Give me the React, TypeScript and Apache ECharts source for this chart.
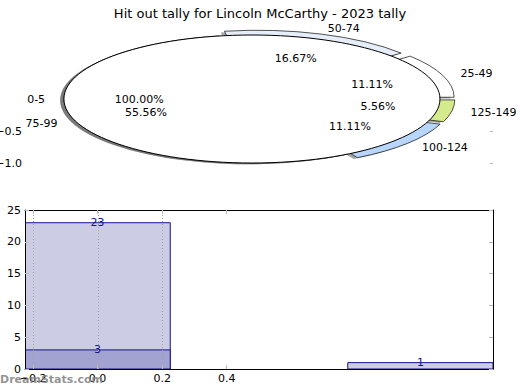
import { useEffect, useRef } from 'react';
import * as echarts from 'echarts';

const TITLE = 'Hit out tally for Lincoln McCarthy - 2023 tally';

// outer (first) pie
const outerLabels = ['0-5'];
const outerValues = [1];
// inner (second) pie
const pieLabels = ['25-49', '50-74', '75-99', '100-124', '125-149'];
const pieValues = [2, 3, 10, 2, 1];
const pieColors = ['#ffffff', '#e6eefa', '#ffffff', '#b8d6fb', '#d5ea8d'];
const pieExplode = [0.08, 0.08, 0, 0.08, 0.08];

// bar chart
const barPositions = [0, 1];
const barTotals = [23, 1];
const overlayPositions = [0];
const overlayValues = [3];
const barXTicks = [-0.2, 0, 0.2, 0.4];
const barGridLines = [-0.2, 0, 0.2];
const barYMax = 25;
const BAR_WIDTH = 0.45;

const FONT = 'DejaVu Sans';

function angles(values: number[]) {
  const total = values.reduce((a, b) => a + b, 0);
  let acc = 0;
  return values.map((v) => {
    const a0 = (acc / total) * Math.PI * 2;
    acc += v;
    const a1 = (acc / total) * Math.PI * 2;
    return { a0, a1, mid: (a0 + a1) / 2, frac: v / total };
  });
}

const innerAngles = angles(pieValues);
const outerAngles = angles(outerValues).map((a) => ({ ...a, mid: Math.PI }));

const textItems = [
  ...outerLabels.map((l, i) => ({ label: l, pct: outerAngles[i].frac, mid: outerAngles[i].mid, e: 0 })),
  ...pieLabels.map((l, i) => ({ label: l, pct: innerAngles[i].frac, mid: innerAngles[i].mid, e: pieExplode[i] })),
];

const minus = (s: string) => s.replace('-', '\u2212');

export default function App() {
  const ref = useRef<HTMLDivElement>(null);
  useEffect(() => {
    if (!ref.current) return;
    const chart = echarts.init(ref.current, undefined, { renderer: 'svg' });
    const tickStyle = { show: true, inside: true, length: 4, lineStyle: { color: '#bbbbbb', width: 1 } };
    const option: any = {
      animation: false,
      backgroundColor: '#ffffff',
      textStyle: { fontFamily: FONT },
      title: {
        text: TITLE,
        left: 'center',
        top: 2,
        textStyle: { fontFamily: FONT, fontSize: 13, fontWeight: 'normal', color: '#000' },
      },
      grid: [
        { left: 25, top: 131, width: 468, height: 32, show: false, containLabel: false, outerBoundsMode: 'none' },
        { left: 25, top: 210, width: 468, height: 159, show: false, containLabel: false, outerBoundsMode: 'none' },
      ],
      xAxis: [
        { gridIndex: 0, type: 'value', min: -1.207, max: 1.282, show: false },
        {
          gridIndex: 1, type: 'value', min: -0.225, max: 1.225, position: 'bottom', z: 5,
          axisLine: { show: true, onZero: false, lineStyle: { color: '#000', width: 1 } },
          axisTick: { ...tickStyle, customValues: barXTicks },
          axisLabel: {
            customValues: barXTicks, margin: 4, fontSize: 11, color: '#000', fontFamily: FONT,
            formatter: (v: number) => minus(v.toFixed(1)),
          },
          splitLine: { show: false },
        },
        {
          gridIndex: 1, type: 'value', min: -0.225, max: 1.225, position: 'top', z: 5,
          axisLine: { show: true, onZero: false, lineStyle: { color: '#000', width: 1 } },
          axisTick: { ...tickStyle, customValues: barXTicks },
          axisLabel: { show: false },
          splitLine: { show: false },
        },
      ],
      yAxis: [
        {
          gridIndex: 0, type: 'value', min: -1, max: -0.5, interval: 0.5, position: 'left',
          axisLine: { show: false },
          axisTick: { ...tickStyle, length: 3 },
          axisLabel: { margin: 3, fontSize: 11, color: '#000', fontFamily: FONT, formatter: (v: number) => minus(v.toFixed(1)) },
          splitLine: { show: false },
        },
        {
          gridIndex: 0, type: 'value', min: -1, max: -0.5, interval: 0.5, position: 'right',
          axisLine: { show: false },
          axisTick: { ...tickStyle, length: 3 },
          axisLabel: { show: false },
          splitLine: { show: false },
        },
        {
          gridIndex: 1, type: 'value', min: 0, max: barYMax, interval: 5, position: 'left', z: 5,
          axisLine: { show: true, onZero: false, lineStyle: { color: '#000', width: 1 } },
          axisTick: tickStyle,
          axisLabel: { margin: 4, fontSize: 11, color: '#000', fontFamily: FONT },
          splitLine: { show: false },
        },
        {
          gridIndex: 1, type: 'value', min: 0, max: barYMax, interval: 5, position: 'right', z: 5,
          axisLine: { show: true, onZero: false, lineStyle: { color: '#000', width: 1 } },
          axisTick: tickStyle,
          axisLabel: { show: false },
          splitLine: { show: false },
        },
      ],
      series: [
        // inner pie slices (exploded), drawn below the outer pie
        {
          type: 'custom', xAxisIndex: 0, yAxisIndex: 0, z: 2, clip: false,
          data: pieValues.map((v) => [0, v]),
          renderItem: (params: any, api: any) => {
            const i = params.dataIndex;
            const { a0, a1, mid } = innerAngles[i];
            const c = api.coord([0, 0]);
            const s = api.size([1, 1]);
            const rx = s[0];
            const ry = s[1];
            const e = pieExplode[i];
            const ox = e * rx * Math.cos(mid);
            const oy = -e * rx * Math.sin(mid);
            return {
              type: 'group', x: c[0], y: c[1], scaleY: ry / rx,
              children: [
                {
                  type: 'sector', z2: 0,
                  shape: { cx: ox - 0.02 * rx, cy: oy + 0.02 * rx, r: rx, startAngle: -a1, endAngle: -a0, clockwise: true },
                  style: { fill: 'rgba(77,77,77,0.5)' },
                },
                {
                  type: 'sector', z2: 1,
                  shape: { cx: ox, cy: oy, r: rx, startAngle: -a1, endAngle: -a0, clockwise: true },
                  style: { fill: pieColors[i], stroke: '#000', lineWidth: 1, strokeNoScale: true },
                },
              ],
            };
          },
        },
        // outer pie (single full slice)
        {
          type: 'custom', xAxisIndex: 0, yAxisIndex: 0, z: 3, clip: false,
          data: outerValues.map((v) => [0, v]),
          renderItem: (params: any, api: any) => {
            const c = api.coord([0, 0]);
            const s = api.size([1, 1]);
            const rx = s[0];
            const ry = s[1];
            return {
              type: 'group',
              children: [
                {
                  type: 'ellipse', z2: 0,
                  shape: { cx: c[0] - 0.02 * rx, cy: c[1] + 0.02 * ry, rx, ry },
                  style: { fill: 'rgba(77,77,77,0.5)' },
                },
                {
                  type: 'ellipse', z2: 1,
                  shape: { cx: c[0], cy: c[1], rx, ry },
                  style: { fill: '#ffffff', stroke: '#000', lineWidth: 1 },
                },
              ],
            };
          },
        },
        // pie texts
        {
          type: 'custom', xAxisIndex: 0, yAxisIndex: 0, z: 4, clip: false,
          data: textItems.map((t) => [0, t.pct]),
          renderItem: (params: any, api: any) => {
            const t = textItems[params.dataIndex];
            const cos = Math.cos(t.mid);
            const sin = Math.sin(t.mid);
            const lp = api.coord([(1.1 + t.e) * cos, (1.1 + t.e) * sin]);
            const pp = api.coord([(0.6 + t.e) * cos, (0.6 + t.e) * sin]);
            return {
              type: 'group',
              children: [
                {
                  type: 'text', x: lp[0], y: lp[1],
                  style: {
                    text: t.label, fill: '#000', font: `11px "${FONT}"`,
                    align: cos > 0 ? 'left' : 'right', verticalAlign: 'middle',
                  },
                },
                {
                  type: 'text', x: pp[0], y: pp[1],
                  style: {
                    text: (t.pct * 100).toFixed(2) + '%', fill: '#000', font: `11px "${FONT}"`,
                    align: 'center', verticalAlign: 'middle',
                  },
                },
              ],
            };
          },
        },
        // total bars
        {
          type: 'custom', xAxisIndex: 1, yAxisIndex: 2, z: 2, clip: true,
          data: barPositions.map((x, i) => [x, barTotals[i]]),
          renderItem: (params: any, api: any) => {
            const x = api.value(0);
            const v = api.value(1);
            const p0 = api.coord([x - BAR_WIDTH / 2, v]);
            const p1 = api.coord([x + BAR_WIDTH / 2, 0]);
            const pt = api.coord([x, v]);
            return {
              type: 'group',
              children: [
                {
                  type: 'rect',
                  shape: { x: p0[0], y: p0[1], width: p1[0] - p0[0], height: p1[1] - p0[1] },
                  style: { fill: '#ccccE5', stroke: '#14148c', lineWidth: 1 },
                },
                {
                  type: 'text', x: pt[0], y: pt[1], z2: 10,
                  style: { text: String(v), fill: '#14148c', font: `11px "${FONT}"`, align: 'center', verticalAlign: 'middle' },
                },
              ],
            };
          },
        },
        // overlay bars
        {
          type: 'custom', xAxisIndex: 1, yAxisIndex: 2, z: 2.5, clip: true,
          data: overlayPositions.map((x, i) => [x, overlayValues[i]]),
          renderItem: (params: any, api: any) => {
            const x = api.value(0);
            const v = api.value(1);
            const p0 = api.coord([x - BAR_WIDTH / 2, v]);
            const p1 = api.coord([x + BAR_WIDTH / 2, 0]);
            const pt = api.coord([x, v]);
            return {
              type: 'group',
              children: [
                {
                  type: 'rect',
                  shape: { x: p0[0], y: p0[1], width: p1[0] - p0[0], height: p1[1] - p0[1] },
                  style: { fill: '#a3a3d1', stroke: '#14148c', lineWidth: 1 },
                },
                {
                  type: 'text', x: pt[0], y: pt[1], z2: 10,
                  style: { text: String(v), fill: '#14148c', font: `11px "${FONT}"`, align: 'center', verticalAlign: 'middle' },
                },
              ],
            };
          },
        },
        // dotted grid lines
        {
          type: 'custom', xAxisIndex: 1, yAxisIndex: 2, z: 3, clip: true, silent: true,
          data: barGridLines.map((x) => [x, 0]),
          renderItem: (params: any, api: any) => {
            const x = api.value(0);
            const a = api.coord([x, 0]);
            const b = api.coord([x, barYMax]);
            return {
              type: 'line',
              shape: { x1: Math.round(a[0]) + 0.5, y1: a[1], x2: Math.round(b[0]) + 0.5, y2: b[1] },
              style: { stroke: '#a0a0a0', lineWidth: 1, lineDash: [1, 2] },
            };
          },
        },
      ],
      graphic: [
        {
          type: 'text', left: 0, top: 374, z: 100,
          style: { text: 'DreamStats.com', fill: 'rgba(128,128,128,0.85)', font: `bold 11px "${FONT}"` },
        },
      ],
    };
    chart.setOption(option);
    return () => chart.dispose();
  }, []);
  return <div ref={ref} style={{ position: 'absolute', left: 0, top: 0, width: 520, height: 390 }} />;
}
